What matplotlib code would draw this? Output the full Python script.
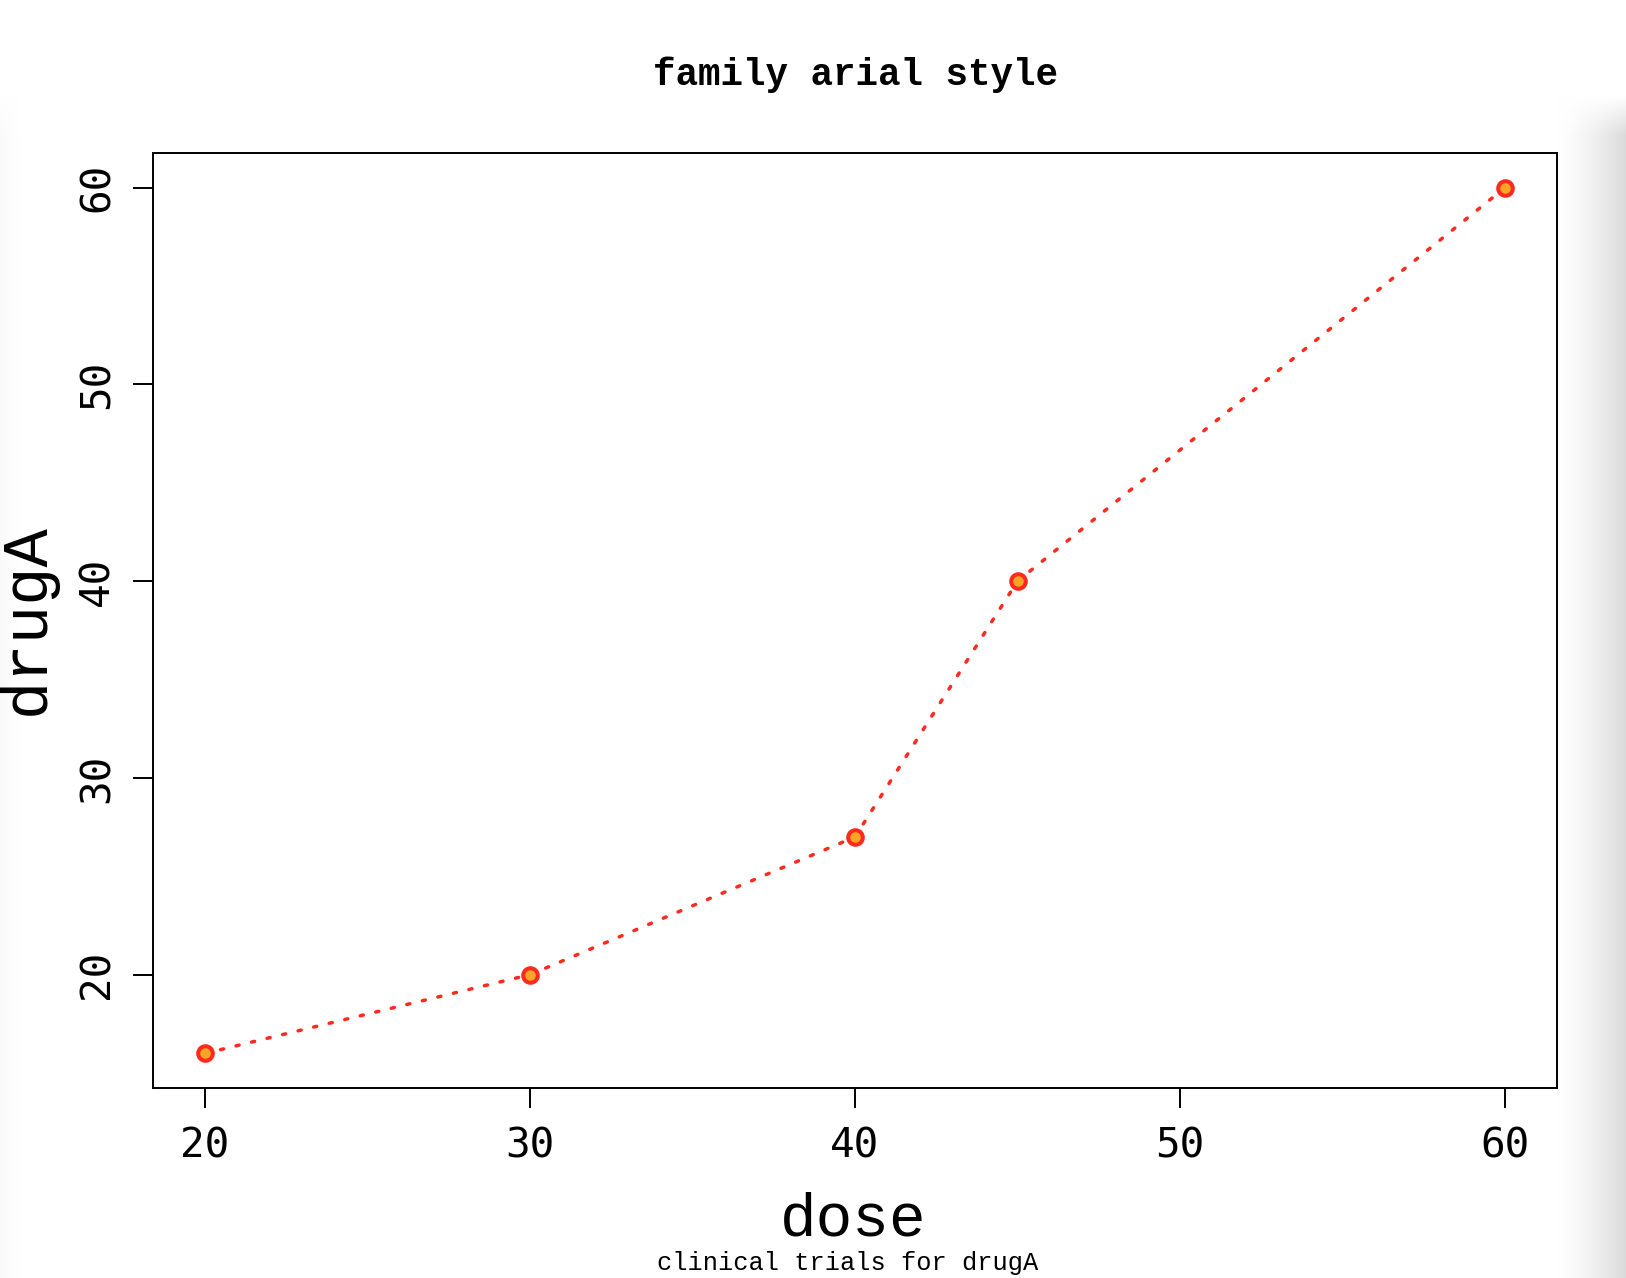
import numpy as np
import matplotlib
matplotlib.use("Agg")
import matplotlib.pyplot as plt

# data
dose = [20, 30, 40, 45, 60]
drugA = [16, 20, 27, 40, 60]
xticks = [20, 30, 40, 50, 60]
yticks = [20, 30, 40, 50, 60]

W, H = 1626, 1278
fig = plt.figure(figsize=(W / 100, H / 100), dpi=100)

# screenshot shadow on the edges
bg = fig.add_axes([0, 0, 1, 1], zorder=-10)
xs = np.arange(W)[None, :]
ys = np.arange(H)[:, None]
fade = np.clip((ys - 95) / 40.0, 0, 1)
right = np.clip((xs - 1556) / 70.0, 0, 1) ** 1.4 * 0.15
left = np.clip(1 - xs / 20.0, 0, 1) * 0.02
img = 1 - (right + left) * fade
bg.imshow(np.dstack([img] * 3), aspect="auto", extent=(0, 1, 0, 1))
bg.axis("off")

ax = fig.add_axes([153 / W, 1 - 1088 / H, (1557 - 153) / W, (1088 - 153) / H])
ax.set_facecolor("none")

red = "#FF2A1E"
ax.plot(dose, drugA, color=red, lw=2.5, linestyle=(0, (0.9, 3.7)),
        dash_capstyle="round", zorder=2)
ax.plot(dose, drugA, linestyle="none", marker="o", ms=10.5, mew=2.9,
        mec=red, mfc="#F9A528", zorder=3)

rng = max(dose) - min(dose)
ax.set_xlim(min(dose) - 0.04 * rng, max(dose) + 0.04 * rng)
rng = max(drugA) - min(drugA)
ax.set_ylim(min(drugA) - 0.04 * rng, max(drugA) + 0.04 * rng)

ax.set_xticks(xticks)
ax.set_yticks(yticks)
for s in ax.spines.values():
    s.set_linewidth(1.4)
ax.tick_params(length=14.4, width=1.4, labelsize=29.5)
ax.tick_params(axis="x", pad=13.5)
ax.tick_params(axis="y", pad=11.2)
for lab in ax.get_xticklabels() + ax.get_yticklabels():
    lab.set_family("DejaVu Sans Mono")
plt.setp(ax.get_yticklabels(), rotation=90, va="center", ha="right")

mono = "Liberation Mono"
ax.set_xlabel("dose", fontsize=44, family=mono)
ax.xaxis.set_label_coords(853 / W, 1 - 1235 / H, transform=fig.transFigure)
ax.xaxis.label.set_va("baseline")

ax.set_ylabel("drugA", fontsize=46, family=mono, rotation=90)
ax.yaxis.set_label_coords(44 / W, 1 - 619 / H, transform=fig.transFigure)
ax.yaxis.label.set_va("baseline")
ax.yaxis.label.set_ha("center")
ax.yaxis.label.set_rotation_mode("anchor")

fig.suptitle("family arial style", x=855 / W, y=1 - 85 / H, va="baseline",
             fontsize=27, fontweight="bold", family=mono)
fig.text(848 / W, 1 - 1270 / H, "clinical trials for drugA", ha="center",
         va="baseline", fontsize=18.3, family=mono)

fig.savefig("out.png", dpi=100)
